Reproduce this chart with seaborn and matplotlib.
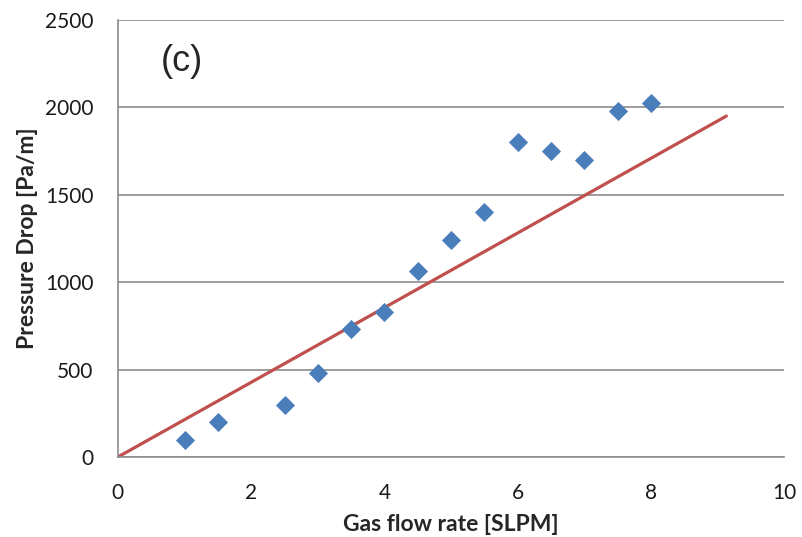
import matplotlib
matplotlib.use("Agg")
import matplotlib.pyplot as plt
import seaborn as sns
import pandas as pd

# measured points
flow_rate = [1, 1.5, 2.5, 3, 3.5, 4, 4.5, 5, 5.5, 6, 6.5, 7, 7.5, 8]
pressure_drop = [100, 200, 300, 480, 730, 830, 1065, 1240, 1400, 1800, 1750, 1700, 1980, 2025]

# model line
model_x = [0, 9.13]
model_y = [0, 1950]

x_ticks = [0, 2, 4, 6, 8, 10]
y_ticks = [0, 500, 1000, 1500, 2000, 2500]

sns.set_style("white")
plt.rcParams['font.family'] = ['Lato', 'DejaVu Sans']

points = pd.DataFrame({"x": flow_rate, "y": pressure_drop})
line = pd.DataFrame({"x": model_x, "y": model_y})

fig = plt.figure(figsize=(8.02, 5.37), dpi=100)
ax = fig.add_axes([0.147, 0.149, 0.831, 0.814])

sns.lineplot(data=line, x="x", y="y", ax=ax, color="#C0504D", linewidth=2.3, zorder=2)
sns.scatterplot(data=points, x="x", y="y", ax=ax, marker="D", s=95, color="#4A7EBB",
                edgecolor="#4A7EBB", linewidth=0, zorder=3)

ax.set_xlim(0, 10)
ax.set_ylim(0, 2500)
ax.set_xticks(x_ticks)
ax.set_yticks(y_ticks)
ax.yaxis.grid(True, color="#8c8c8c", linewidth=1.2)
ax.set_axisbelow(True)

for side in ["top", "right"]:
    ax.spines[side].set_visible(False)
for side in ["left", "bottom"]:
    ax.spines[side].set_color("#8c8c8c")
    ax.spines[side].set_linewidth(1.2)

ax.tick_params(axis="both", direction="out", width=1.2, color="#8c8c8c",
               labelsize=15, labelcolor="#1a1a1a")
ax.tick_params(axis="y", length=6.5, pad=11)
ax.tick_params(axis="x", length=4.5, pad=14)

ax.set_xlabel("Gas flow rate [SLPM]", fontsize=16.5, fontweight="bold", labelpad=8)
ax.set_ylabel("Pressure Drop [Pa/m]", fontsize=16.5, fontweight="bold", labelpad=5)

ax.text(0.065, 0.905, "(c)", transform=ax.transAxes, fontsize=26,
        family="Liberation Sans", va="center", ha="left")

fig.savefig("out.png", dpi=100)
